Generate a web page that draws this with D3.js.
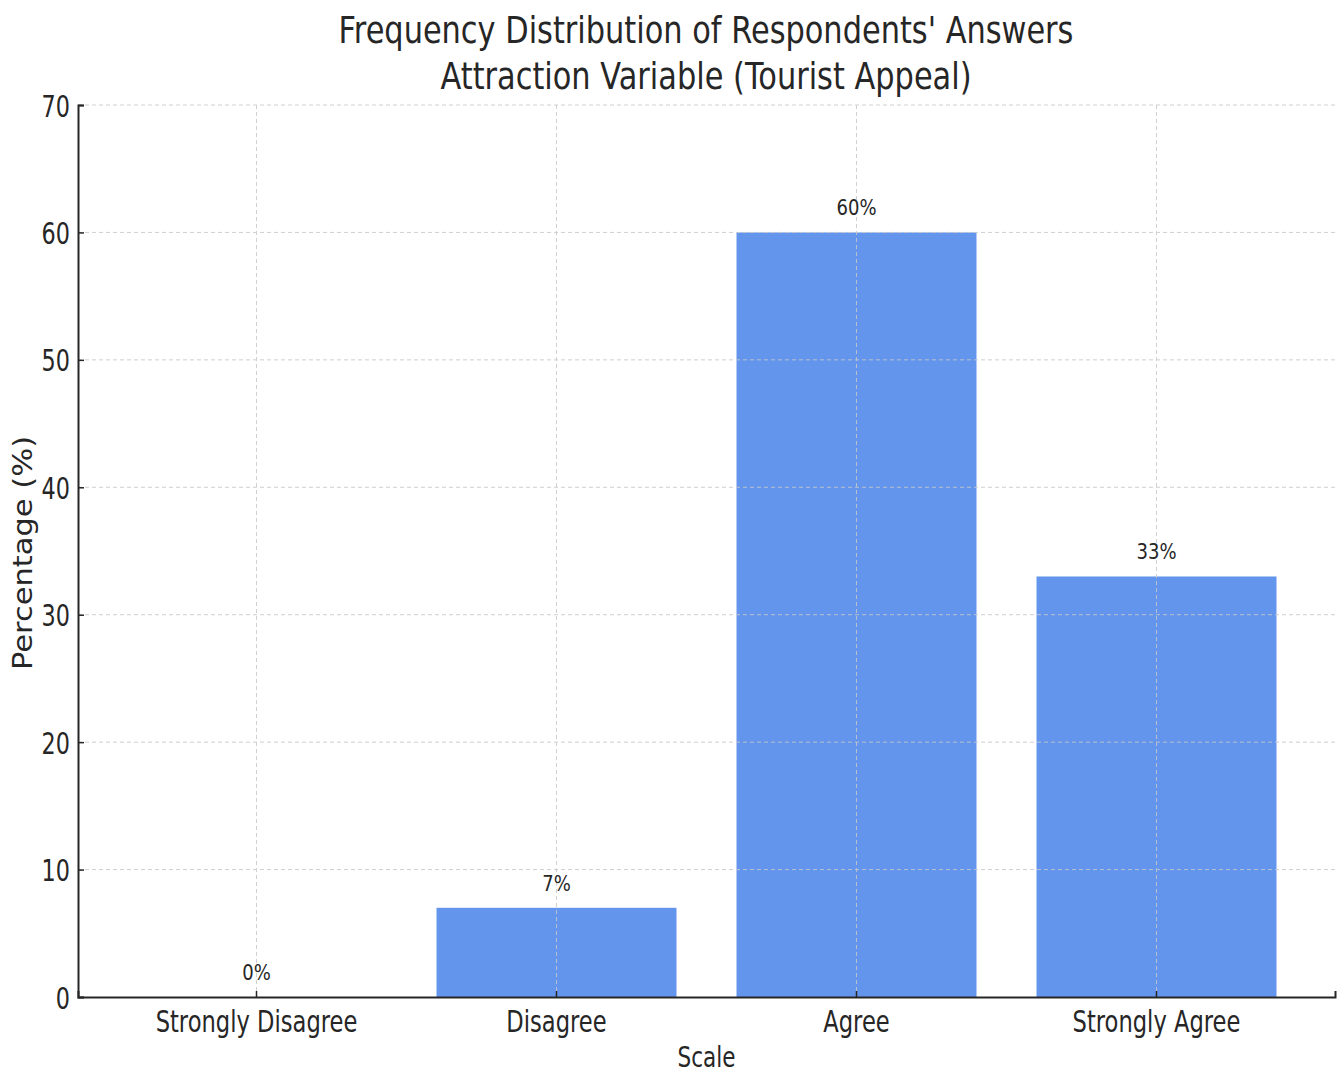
<!DOCTYPE html>
<html>
<head>
<meta charset="utf-8">
<script src="https://cdn.jsdelivr.net/npm/d3@7"></script>
<style>
  body { margin: 0; background: #fff; }
  text { font-family: "DejaVu Sans", sans-serif; fill: #262626; }
</style>
</head>
<body>
<svg id="chart" width="1340" height="1075"></svg>
<script>
const categories = ["Strongly Disagree", "Disagree", "Agree", "Strongly Agree"];
const percentages = [0, 7, 60, 33];
const yTicks = [0, 10, 20, 30, 40, 50, 60, 70];
const titleLines = ["Frequency Distribution of Respondents' Answers", "Attraction Variable (Tourist Appeal)"];
const xLabel = "Scale";
const yLabel = "Percentage (%)";

const W = 1340, H = 1075;
const margin = { left: 78, right: 5, top: 105, bottom: 78 };

const svg = d3.select("#chart");

const x = d3.scaleBand()
  .domain(categories)
  .range([margin.left, W - margin.right])
  .paddingInner(0.2)
  .paddingOuter(0.195);

const y = d3.scaleLinear()
  .domain([0, 70])
  .range([H - margin.bottom, margin.top]);

// narrow text helper: horizontally squeezed label
function narrowText(g, str, px, py, size, sx, anchor) {
  return g.append("text")
    .attr("transform", `translate(${px},${py}) scale(${sx},1)`)
    .attr("text-anchor", anchor || "middle")
    .attr("font-size", size)
    .text(str);
}

// bars
svg.append("g").selectAll("rect")
  .data(percentages)
  .join("rect")
  .attr("x", (d, i) => x(categories[i]))
  .attr("width", x.bandwidth())
  .attr("y", d => y(d))
  .attr("height", d => y(0) - y(d))
  .attr("fill", "#6495ED");

// grid (drawn over the bars)
const grid = svg.append("g").attr("stroke", "#c8c8c8").attr("stroke-width", 1)
  .attr("stroke-dasharray", "4,3").attr("opacity", 0.85);
grid.selectAll("line.h").data(yTicks.filter(t => t > 0)).join("line")
  .attr("x1", margin.left).attr("x2", W - margin.right)
  .attr("y1", d => y(d)).attr("y2", d => y(d));
grid.selectAll("line.v").data(categories).join("line")
  .attr("x1", d => x(d) + x.bandwidth() / 2).attr("x2", d => x(d) + x.bandwidth() / 2)
  .attr("y1", margin.top).attr("y2", H - margin.bottom);

// axes (left and bottom spines, inward ticks)
const yAxis = d3.axisLeft(y).tickValues(yTicks).tickSize(-6).tickPadding(14).tickFormat(d3.format("d"));
const yg = svg.append("g").attr("transform", `translate(${margin.left},0)`).call(yAxis);
const xAxis = d3.axisBottom(x).tickSize(-6).tickPadding(14);
const xg = svg.append("g").attr("transform", `translate(0,${H - margin.bottom})`).call(xAxis);

[yg, xg].forEach(g => {
  g.select(".domain").attr("stroke", "#262626").attr("stroke-width", 2);
  g.selectAll(".tick line").attr("stroke", "#262626").attr("stroke-width", 1.5);
});

yg.selectAll(".tick text").remove();
yg.selectAll(".tick").each(function (d) {
  narrowText(d3.select(this), d, -8, 11, 31, 0.72, "end").attr("fill", "#262626");
});
xg.selectAll(".tick text").remove();
xg.selectAll(".tick").each(function (d) {
  narrowText(d3.select(this), d, 0, 35, 31, 0.73, "middle").attr("fill", "#262626");
});

// value labels
const vl = svg.append("g");
percentages.forEach((v, i) => {
  narrowText(vl, v + "%", x(categories[i]) + x.bandwidth() / 2, y(v) - 17, 22, 0.82, "middle").attr("fill", "#333");
});

// titles
narrowText(svg, titleLines[0], W / 2 + 36, 43, 38, 0.8, "middle");
narrowText(svg, titleLines[1], W / 2 + 36, 89, 38, 0.8, "middle");

// axis labels
narrowText(svg, xLabel, (margin.left + W - margin.right) / 2, 1067, 28, 0.77, "middle");
svg.append("text")
  .attr("transform", `translate(32,${(margin.top + H - margin.bottom) / 2 + 2}) rotate(-90) scale(1.13,1)`)
  .attr("text-anchor", "middle")
  .attr("font-size", 27)
  .text(yLabel);
</script>
</body>
</html>
